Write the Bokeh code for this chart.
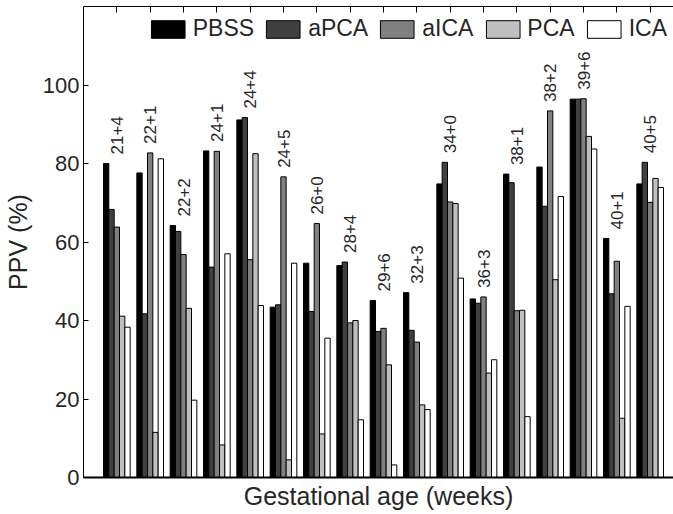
import numpy as np
from bokeh.plotting import figure
from bokeh.models import (ColumnDataSource, FixedTicker, LinearAxis, Range1d,
                          Legend, LegendItem, CustomLabelingPolicy)
from bokeh.transform import dodge
from bokeh.core.properties import value
from bokeh.embed import file_html
from bokeh.resources import INLINE

# ---- data -----------------------------------------------------------------
labels = ["21+4", "22+1", "22+2", "24+1", "24+4", "24+5", "26+0", "28+4", "29+6",
          "32+3", "34+0", "36+3", "38+1", "38+2", "39+6", "40+1", "40+5"]
pbss = [80.0, 77.6, 64.2, 83.2, 91.1, 43.4, 54.6, 54.0, 45.1, 47.1, 74.8, 45.5, 77.3, 79.1, 96.4, 60.9, 74.8]
apca = [68.3, 41.7, 62.7, 53.6, 91.7, 44.0, 42.3, 54.9, 37.2, 37.5, 80.3, 44.4, 75.1, 69.1, 96.4, 46.8, 80.3]
aica = [63.8, 82.7, 56.8, 83.1, 55.5, 76.6, 64.7, 39.4, 38.0, 34.5, 70.2, 46.0, 42.5, 93.4, 96.5, 55.1, 70.1]
pca  = [41.1, 11.5, 43.1, 8.3, 82.5, 4.5, 11.1, 40.0, 28.7, 18.5, 69.8, 26.6, 42.6, 50.4, 86.9, 15.1, 76.2]
ica  = [38.3, 81.2, 19.7, 57.0, 43.8, 54.6, 35.5, 14.7, 3.2, 17.3, 50.8, 30.0, 15.5, 71.6, 83.7, 43.6, 73.9]
series_names = ["PBSS", "aPCA", "aICA", "PCA", "ICA"]
series_colors = ["#000000", "#404040", "#808080", "#bfbfbf", "#ffffff"]
y_ticks = [0, 20, 40, 60, 80, 100]

# ---- source ---------------------------------------------------------------
pos = list(range(1, len(labels) + 1))
series = [pbss, apca, aica, pca, ica]
src = ColumnDataSource(dict(pos=pos, labels=labels,
                            top=[max(v) for v in zip(*series)],
                            **{n: s for n, s in zip(series_names, series)}))

FONT = "Liberation Sans"
TXT = "#262626"

p = figure(width=673, height=514, output_backend="svg", toolbar_location=None,
           x_range=Range1d(0, 17.7), y_range=Range1d(0, 120),
           min_border_left=83, min_border_right=0, min_border_top=6,
           min_border_bottom=37)
p.outline_line_color = None
p.grid.visible = False
p.background_fill_color = "white"
p.border_fill_color = "white"

bw = 0.16
offsets = [-2 * bw, -bw, 0.0, bw, 2 * bw]
renderers = []
for name, col, off in zip(series_names, series_colors, offsets):
    r = p.vbar(x=dodge("pos", off, range=p.x_range), top=name, bottom=0, width=bw,
               source=src, fill_color=col, line_color="black", line_width=1)
    renderers.append(r)

p.text(x="pos", y="top", text="labels", source=src, angle=np.pi / 2,
       text_align="left", text_baseline="middle", y_offset=-9,
       text_font=value(FONT), text_font_size="17px", text_color=TXT)

# y axis
ya = p.yaxis[0]
ya.ticker = FixedTicker(ticks=y_ticks)
ya.major_tick_in = 5
ya.major_tick_out = 0
ya.minor_tick_line_color = None
ya.major_label_standoff = 4
ya.major_label_text_font = FONT
ya.major_label_text_font_size = "22px"
ya.major_label_text_color = TXT
ya.axis_label = "PPV (%)"
ya.axis_label_text_font = FONT
ya.axis_label_text_font_size = "25px"
ya.axis_label_text_font_style = "normal"
ya.axis_label_text_color = TXT
ya.axis_label_standoff = 8
ya.axis_line_color = "black"
ya.major_tick_line_color = "black"

# x axis
xa = p.xaxis[0]
xa.ticker = FixedTicker(ticks=[])
xa.major_tick_in = 0
xa.major_tick_out = 0
xa.minor_tick_line_color = None
xa.axis_line_width = 2
xa.axis_line_color = "black"
xa.axis_label = "Gestational age (weeks)"
xa.axis_label_text_font = FONT
xa.axis_label_text_font_size = "25px"
xa.axis_label_text_font_style = "normal"
xa.axis_label_text_color = TXT
xa.axis_label_standoff = 4

# top border with inward ticks, no labels
no_labels = CustomLabelingPolicy(code="return new Set()")
top = LinearAxis(ticker=FixedTicker(ticks=pos), major_tick_in=6, major_tick_out=0,
                 minor_tick_line_color=None, major_label_text_font_size="1px",
                 major_label_policy=no_labels,
                 major_label_standoff=0, axis_line_color="black",
                 major_tick_line_color="black")
p.add_layout(top, "above")

legend = Legend(items=[LegendItem(label=n, renderers=[r]) for n, r in zip(series_names, renderers)],
                orientation="horizontal", location="top_right",
                label_text_font=FONT, label_text_font_size="23px", label_text_color=TXT,
                glyph_width=42, glyph_height=22, label_standoff=4, spacing=8,
                label_height=33, padding=0, margin=6,
                border_line_color=None, background_fill_alpha=0)
p.add_layout(legend)

open("out.html", "w").write(file_html(p, INLINE))
